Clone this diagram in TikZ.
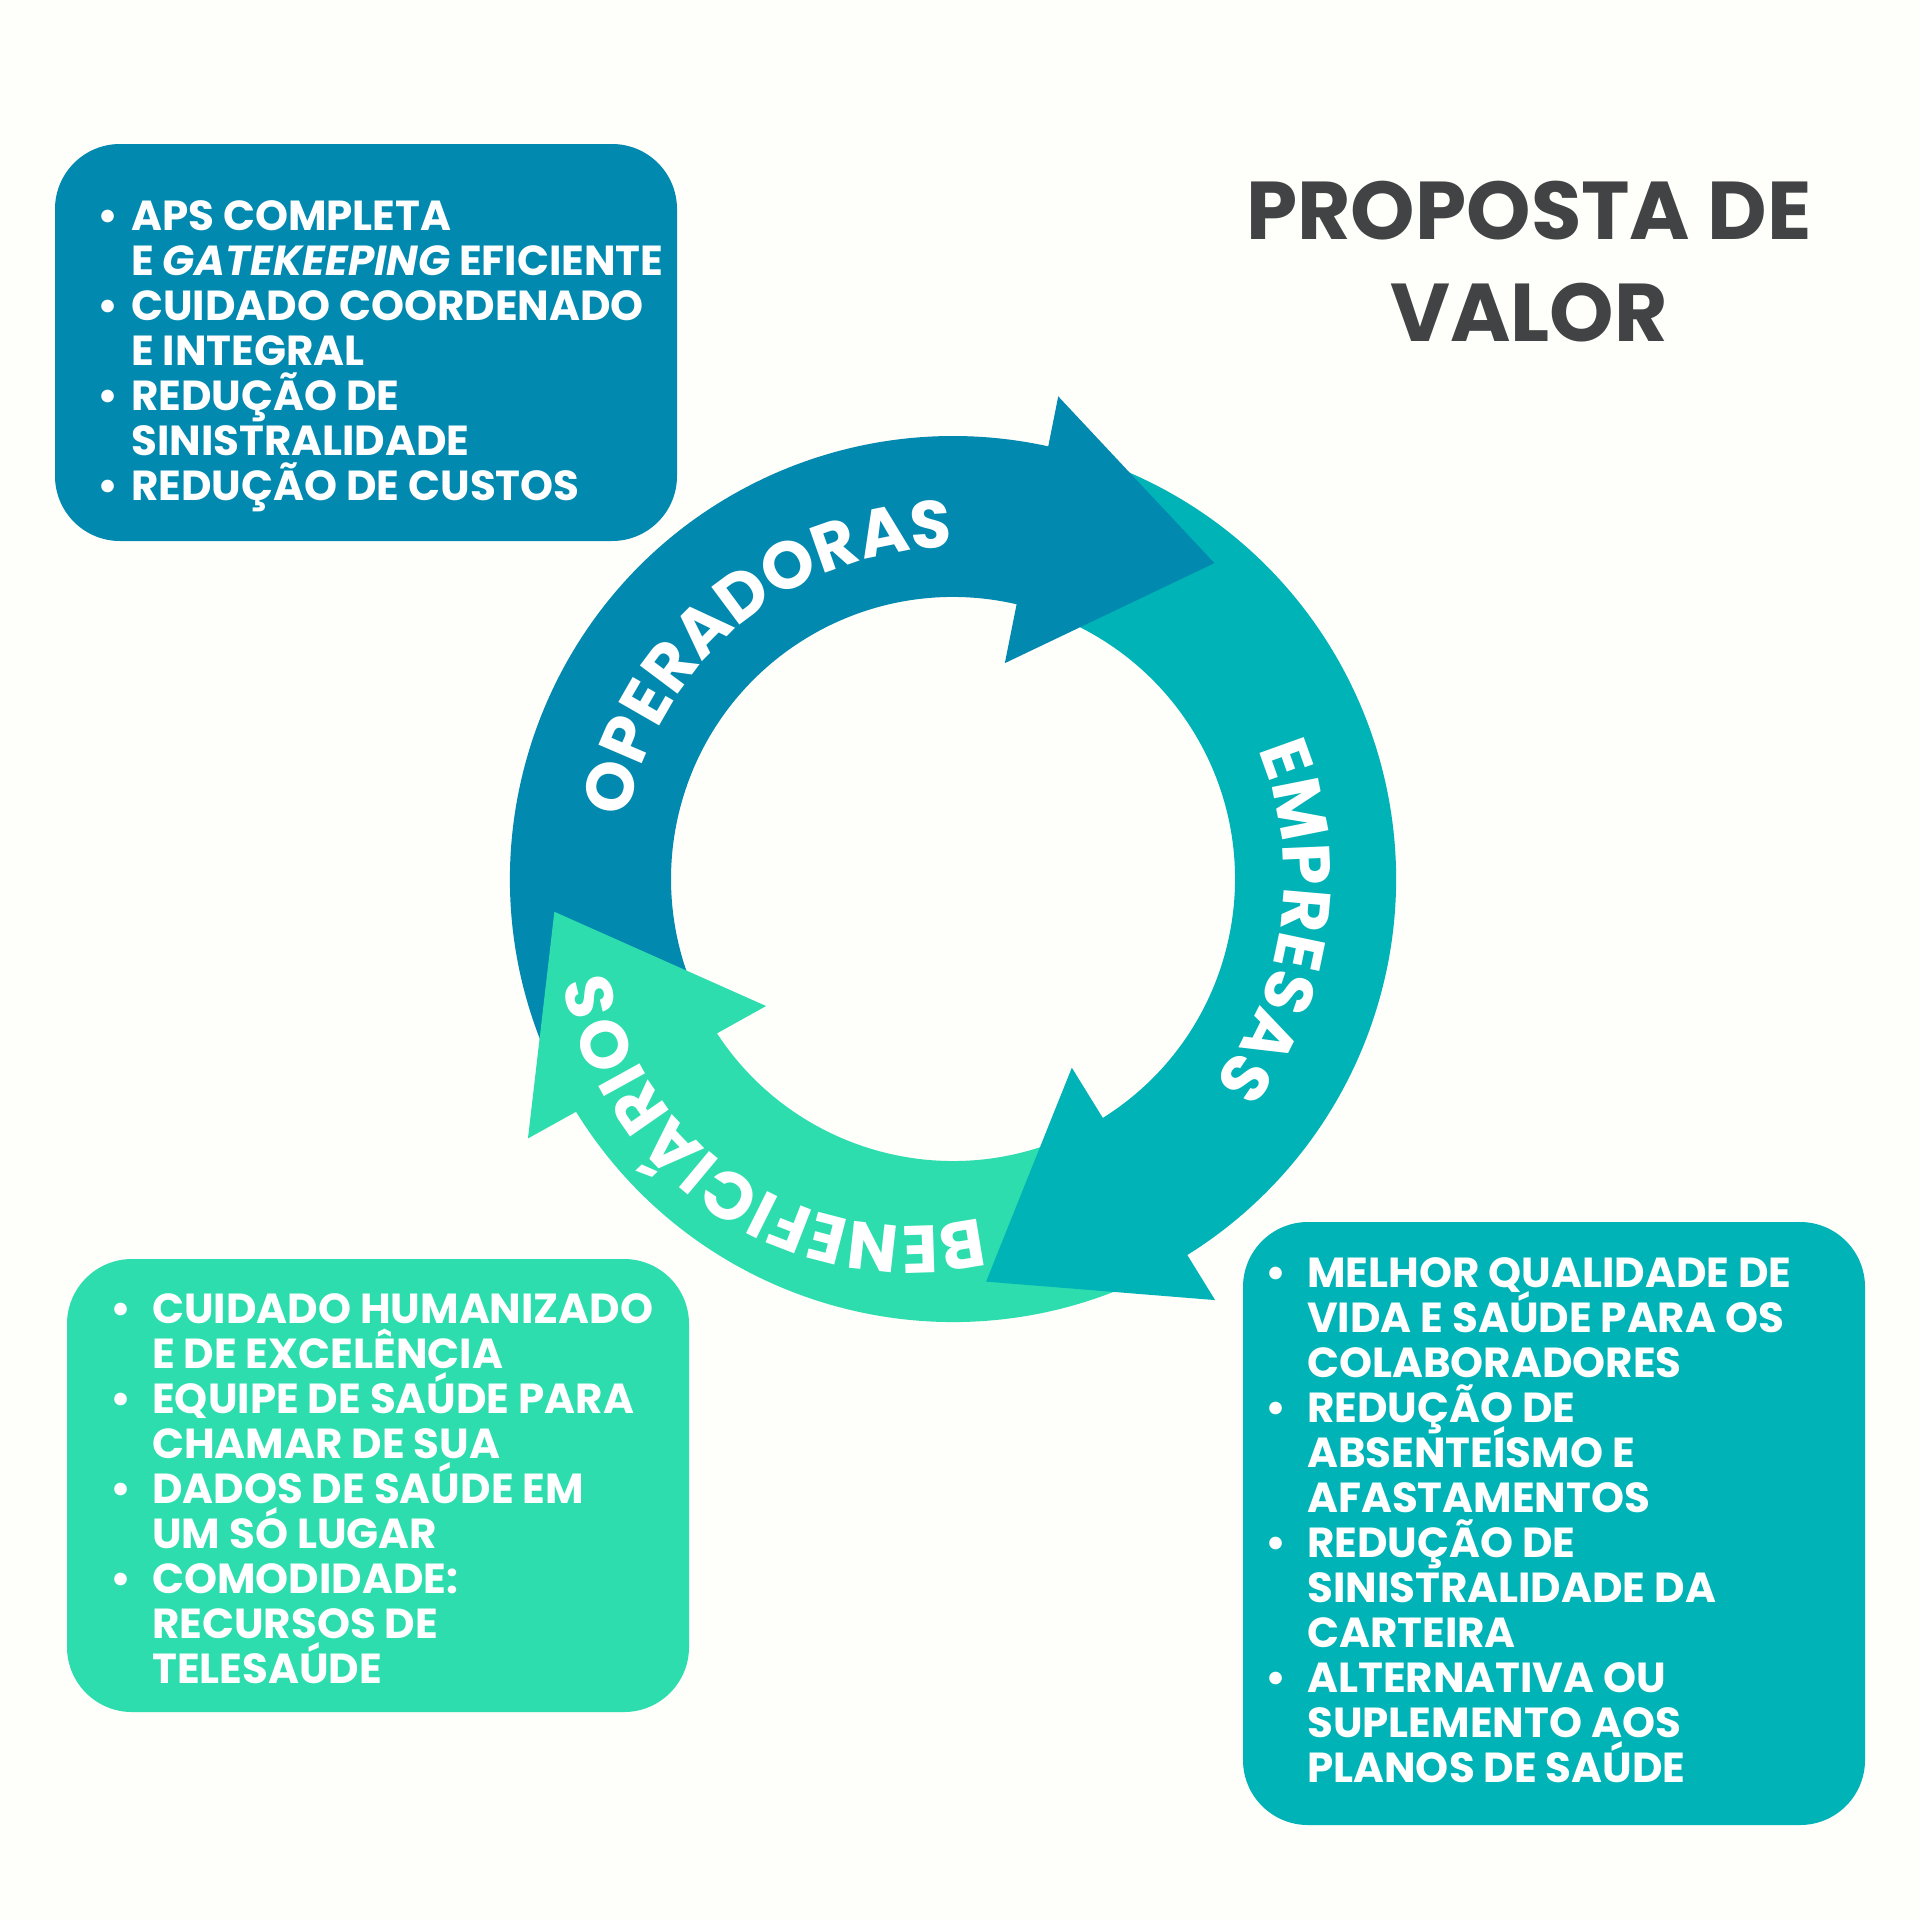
\documentclass[tikz,border=0pt]{standalone}
\usepackage{fontspec}
\setmainfont{Poppins}
\usetikzlibrary{decorations.text}
\definecolor{opblue}{RGB}{2,137,175}
\definecolor{empteal}{RGB}{0,179,182}
\definecolor{bengreen}{RGB}{45,221,173}
\definecolor{bgcream}{RGB}{254,254,250}
\definecolor{titlegray}{RGB}{65,67,69}
\newcommand{\itembul}[1]{\llap{\textbullet\hspace{#1}}}
\newcommand{\rowline}[1]{\smash{#1}}
\newcommand{\curvefont}{\fontsize{67}{67}\selectfont\bfseries}
\begin{document}
\begin{tikzpicture}[x=1pt,y=-1pt,
  infobox/.style={rounded corners=65pt},
  listtext/.style={text=white, font=\fontsize{42}{45}\selectfont\bfseries, inner sep=0pt, anchor=north west, align=left},
  titletext/.style={text=titlegray, font=\fontsize{82}{82}\selectfont\bfseries, inner sep=0pt, anchor=base},
  curvedword/.style={decorate, decoration={text along path, text align=center, text color=white, text={|\curvefont|#1}}}
]
% background / bounding box
\fill[bgcream] (0,0) rectangle (1920,1920);

% title
\node[titletext] (title1) at (1529,239) {PROPOSTA DE};
\node[titletext] (title2) at (1529,341) {VALOR};

% info boxes
\fill[opblue, infobox] (55,144) rectangle (677,541);
\fill[bengreen, infobox] (67,1259) rectangle (689,1712);
\fill[empteal, infobox] (1243,1222) rectangle (1865,1825);

\node[listtext] (oplist) at (131,199) {%
\begin{tabular}{@{}l@{}}
\rowline{\itembul{13pt}APS COMPLETA}\\
\rowline{E \textit{GATEKEEPING} EFICIENTE}\\
\rowline{\itembul{13pt}CUIDADO COORDENADO}\\
\rowline{E INTEGRAL}\\
\rowline{\itembul{13pt}REDUÇÃO DE}\\
\rowline{SINISTRALIDADE}\\
\rowline{\itembul{13pt}REDUÇÃO DE CUSTOS}
\end{tabular}};

\node[listtext] (benlist) at (152,1291.5) {%
\begin{tabular}{@{}l@{}}
\rowline{\itembul{21pt}CUIDADO HUMANIZADO}\\
\rowline{E DE EXCELÊNCIA}\\
\rowline{\itembul{21pt}EQUIPE DE SAÚDE PARA}\\
\rowline{CHAMAR DE SUA}\\
\rowline{\itembul{21pt}DADOS DE SAÚDE EM}\\
\rowline{UM SÓ LUGAR}\\
\rowline{\itembul{21pt}COMODIDADE:}\\
\rowline{RECURSOS DE}\\
\rowline{TELESAÚDE}
\end{tabular}};

\node[listtext] (emplist) at (1307,1256) {%
\begin{tabular}{@{}l@{}}
\rowline{\itembul{21pt}MELHOR QUALIDADE DE}\\
\rowline{VIDA E SAÚDE PARA OS}\\
\rowline{COLABORADORES}\\
\rowline{\itembul{21pt}REDUÇÃO DE}\\
\rowline{ABSENTEÍSMO E}\\
\rowline{AFASTAMENTOS}\\
\rowline{\itembul{21pt}REDUÇÃO DE}\\
\rowline{SINISTRALIDADE DA}\\
\rowline{CARTEIRA}\\
\rowline{\itembul{21pt}ALTERNATIVA OU}\\
\rowline{SUPLEMENTO AOS}\\
\rowline{PLANOS DE SAÚDE}
\end{tabular}};

% cycle
\begin{scope}[shift={(953,879)}]
  % bands
  \fill[opblue] (155:443) arc[start angle=155, end angle=284, radius=443]
     -- (284:282) arc[start angle=284, end angle=155, radius=282] -- cycle;
  \fill[empteal] (290:443) arc[start angle=290, end angle=419, radius=443]
     -- (419:282) arc[start angle=419, end angle=290, radius=282] -- cycle;
  \fill[bengreen] (66:443) arc[start angle=66, end angle=149, radius=443]
     -- (149:282) arc[start angle=149, end angle=66, radius=282] -- cycle;
  % heads
  \fill[opblue] (282.3:494) -- (309.6:410) -- (283.5:222) -- cycle;
  \fill[empteal] (58.1:496) -- (85.3:404) -- (57.8:223) -- cycle;
  \fill[bengreen] (148.6:498) -- (175.3:400) -- (145.8:226) -- cycle;
  % words
  \path[curvedword=OPERADORAS] (170.2:331) arc[start angle=170.2, end angle=290.2, radius=331];
  \path[curvedword=EMPRESAS] (-52.5:331) arc[start angle=-52.5, end angle=67.5, radius=331];
\end{scope}
\begin{scope}[shift={(909.2,921)}]
  \path[curvedword=BENEFICIÁRIOS] (63.5:305) arc[start angle=63.5, end angle=183.5, radius=305];
\end{scope}
\end{tikzpicture}
\end{document}
